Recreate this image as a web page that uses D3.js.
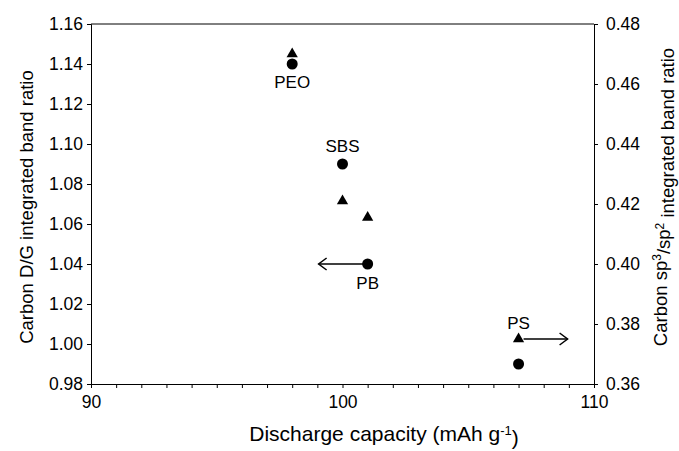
<!DOCTYPE html>
<html>
<head>
<meta charset="utf-8">
<script src="https://cdn.jsdelivr.net/npm/d3@7"></script>
<style>
  body { margin: 0; background: #fff; }
  svg { display: block; font-family: "Liberation Sans", Arial, sans-serif; }
</style>
</head>
<body>
<svg id="chart" width="679" height="451"></svg>
<script>
// Binder samples and their measured values
const samples = ["PEO", "SBS", "PB", "PS"];
const capacity = [98, 100, 101, 107];              // mAh g-1
const dgRatio = [1.14, 1.09, 1.04, 0.99];          // left axis (circles)
const sp3sp2Ratio = [0.470, 0.421, 0.4155, 0.375]; // right axis (triangles)

const xTicks = [90, 100, 110];
const leftTicks = [0.98, 1.00, 1.02, 1.04, 1.06, 1.08, 1.10, 1.12, 1.14, 1.16];
const rightTicks = [0.36, 0.38, 0.40, 0.42, 0.44, 0.46, 0.48];

// label placement: which marker the sample name sits by
const labelAnchor = [
  { series: "dg", dy: 24 },   // PEO below circle
  { series: "dg", dy: -12 },  // SBS above circle
  { series: "dg", dy: 25 },   // PB below circle
  { series: "sp", dy: -10 }   // PS above triangle
];

const svg = d3.select("#chart");
const m = { left: 91, right: 85, top: 24, bottom: 67 };
const W = 679, H = 451;
const x = d3.scaleLinear().domain([90, 110]).range([m.left, W - m.right]);
const yL = d3.scaleLinear().domain([0.98, 1.16]).range([H - m.bottom, m.top]);
const yR = d3.scaleLinear().domain([0.36, 0.48]).range([H - m.bottom, m.top]);

const tickFont = 17.5;
const fam = "Liberation Sans, Arial, sans-serif";

// top edge of frame
svg.append("line").attr("x1", x(90)).attr("x2", x(110)).attr("y1", yL(1.16)).attr("y2", yL(1.16))
  .attr("stroke", "#000").attr("stroke-width", 1);

// bottom axis: majors + minor ticks every 1 unit
const gx = svg.append("g").attr("transform", `translate(0,${H - m.bottom})`)
  .call(d3.axisBottom(x).tickValues(d3.range(90, 111, 1)).tickSize(4).tickFormat(d => xTicks.includes(d) ? d : ""));
gx.selectAll("text").attr("font-size", tickFont).attr("font-family", fam).attr("dy", "0.95em");

const gl = svg.append("g").attr("transform", `translate(${m.left},0)`)
  .call(d3.axisLeft(yL).tickValues(leftTicks).tickSize(4).tickFormat(d3.format(".2f")));
gl.selectAll("text").attr("font-size", tickFont).attr("font-family", fam).attr("x", -8);

const gr = svg.append("g").attr("transform", `translate(${W - m.right},0)`)
  .call(d3.axisRight(yR).tickValues(rightTicks).tickSize(4).tickFormat(d3.format(".2f")));
gr.selectAll("text").attr("font-size", tickFont).attr("font-family", fam).attr("x", 12);

[gx, gl, gr].forEach(g => {
  g.select(".domain").attr("stroke", "#000");
  g.selectAll(".tick line").attr("stroke", "#000");
  g.selectAll("text").attr("fill", "#000");
});

// circles: D/G ratio
svg.append("g").selectAll("circle").data(samples).join("circle")
  .attr("cx", (d, i) => x(capacity[i]))
  .attr("cy", (d, i) => yL(dgRatio[i]))
  .attr("r", 5.5).attr("fill", "#000");

// triangles: sp3/sp2 ratio
const tri = d3.symbol().type(d3.symbolTriangle).size(55);
svg.append("g").selectAll("path").data(samples).join("path")
  .attr("d", tri)
  .attr("transform", (d, i) => `translate(${x(capacity[i])},${yR(sp3sp2Ratio[i])})`)
  .attr("fill", "#000");

// sample names
svg.append("g").selectAll("text").data(samples).join("text")
  .attr("x", (d, i) => x(capacity[i]))
  .attr("y", (d, i) => {
    const a = labelAnchor[i];
    const base = a.series === "dg" ? yL(dgRatio[i]) : yR(sp3sp2Ratio[i]);
    return base + a.dy;
  })
  .attr("text-anchor", "middle")
  .attr("font-size", 17)
  .text(d => d);

// arrows showing which axis each series belongs to
function arrow(x1, x2, y) {
  const dir = Math.sign(x2 - x1);
  svg.append("line").attr("x1", x1).attr("x2", x2).attr("y1", y).attr("y2", y)
    .attr("stroke", "#000").attr("stroke-width", 1.5);
  svg.append("path")
    .attr("d", `M${x2 - dir * 8},${y - 6} L${x2},${y} L${x2 - dir * 8},${y + 6}`)
    .attr("fill", "none").attr("stroke", "#000").attr("stroke-width", 1.5);
}
arrow(x(100.85), x(99.05), yL(1.04));
arrow(x(107.2), x(108.95), yR(0.375));

// axis titles
svg.append("text")
  .attr("transform", `translate(33,207) rotate(-90)`)
  .attr("text-anchor", "middle").attr("font-size", 18.5)
  .text("Carbon D/G integrated band ratio");

const rt = svg.append("text")
  .attr("transform", `translate(667,197) rotate(-90)`)
  .attr("text-anchor", "middle").attr("font-size", 18.5);
rt.append("tspan").text("Carbon sp");
rt.append("tspan").attr("dy", "-0.5em").attr("font-size", 12).text("3");
rt.append("tspan").attr("dy", "0.5em").text("/sp");
rt.append("tspan").attr("dy", "-0.5em").attr("font-size", 12).text("2");
rt.append("tspan").attr("dy", "0.5em").text(" integrated band ratio");

const xt = svg.append("text")
  .attr("x", 384).attr("y", 441)
  .attr("text-anchor", "middle").attr("font-size", 21);
xt.append("tspan").text("Discharge capacity (mAh g");
xt.append("tspan").attr("dy", "-0.5em").attr("font-size", 13).text("-1");
xt.append("tspan").attr("dy", "0.5em").text(")");
</script>
</body>
</html>
